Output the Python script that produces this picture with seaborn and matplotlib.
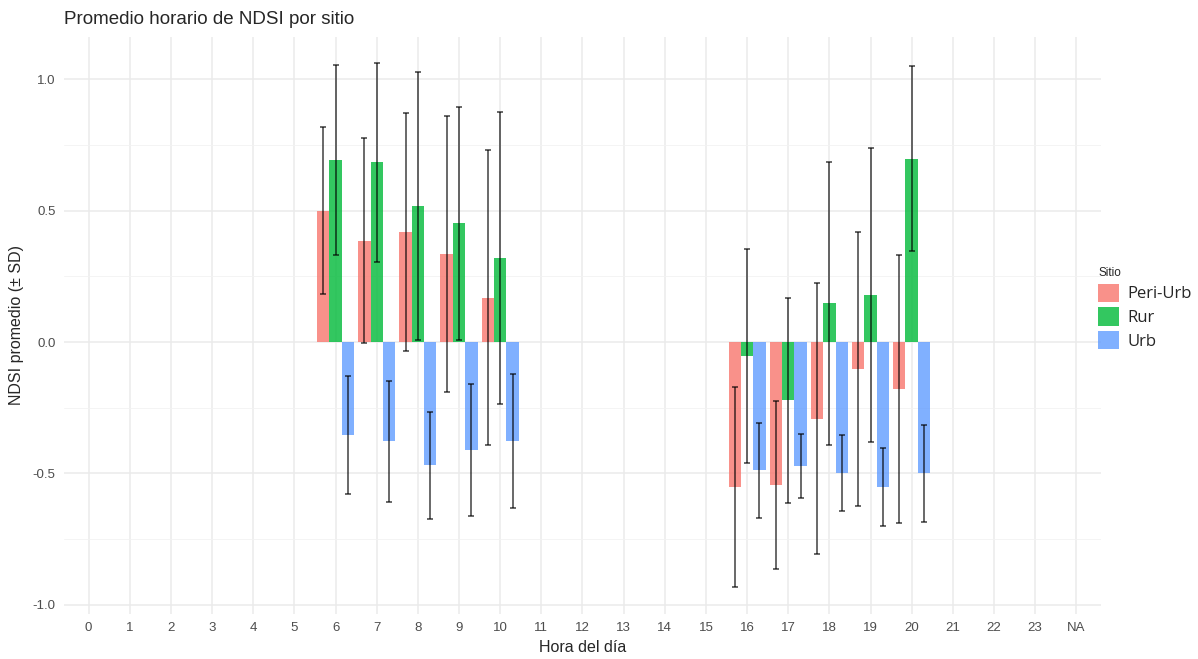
import matplotlib
matplotlib.use("Agg")
import matplotlib.pyplot as plt
import numpy as np
import pandas as pd
import seaborn as sns

# hours on the x axis (all levels of the factor, including NA)
horas = [str(h) for h in range(24)] + ["NA"]
sitios = ["Peri-Urb", "Rur", "Urb"]
colores = ["#F8766D", "#00BA38", "#619CFF"]

# hours that have data
horas_datos = ["6", "7", "8", "9", "10", "16", "17", "18", "19", "20"]

# mean NDSI per hour and site
media_peri = [0.50, 0.385, 0.418, 0.335, 0.169, -0.551, -0.545, -0.292, -0.103, -0.179]
media_rur = [0.693, 0.684, 0.519, 0.452, 0.320, -0.053, -0.221, 0.147, 0.179, 0.697]
media_urb = [-0.354, -0.377, -0.469, -0.411, -0.377, -0.488, -0.472, -0.497, -0.551, -0.500]

# standard deviation
sd_peri = [0.317, 0.39, 0.454, 0.527, 0.56, 0.38, 0.32, 0.515, 0.52, 0.51]
sd_rur = [0.363, 0.378, 0.51, 0.443, 0.556, 0.407, 0.39, 0.537, 0.56, 0.352]
sd_urb = [0.223, 0.23, 0.203, 0.25, 0.256, 0.18, 0.123, 0.145, 0.149, 0.186]

medias = {"Peri-Urb": media_peri, "Rur": media_rur, "Urb": media_urb}
sds = {"Peri-Urb": sd_peri, "Rur": sd_rur, "Urb": sd_urb}

filas = []
for s in sitios:
    for h, m, d in zip(horas_datos, medias[s], sds[s]):
        filas.append({"hora": h, "sitio": s, "ndsi": m, "sd": d})
df = pd.DataFrame(filas)

sns.set_theme(style="white")
plt.rcParams["font.family"] = ["Liberation Sans", "DejaVu Sans"]

fig = plt.figure(figsize=(11.98, 6.59), dpi=100)
ax = fig.add_axes([0.0534, 0.0683, 0.8656, 0.8756])

sns.barplot(data=df, x="hora", y="ndsi", hue="sitio", order=horas,
            hue_order=sitios, palette=colores, saturation=1, alpha=0.8,
            width=0.9, linewidth=0, errorbar=None, ax=ax, zorder=2)

# error bars (mean +- sd) on each bar
for cont, s in zip(ax.containers, sitios):
    sub = df[df.sitio == s].set_index("hora")
    for p in cont.patches:
        cx = p.get_x() + p.get_width() / 2
        h = horas[int(round(cx))]
        if h not in sub.index:
            continue
        ax.errorbar(cx, sub.loc[h, "ndsi"], yerr=sub.loc[h, "sd"],
                    fmt="none", ecolor="black", elinewidth=1.1, capsize=2.5,
                    capthick=1.1, alpha=0.75, zorder=3)

ax.set_xlim(-0.6, len(horas) - 0.4)
ax.set_ylim(-1.035, 1.161)
ax.set_yticks([-1.0, -0.5, 0.0, 0.5, 1.0])
ax.set_yticklabels(["-1.0", "-0.5", "0.0", "0.5", "1.0"])
ax.set_yticks([-0.75, -0.25, 0.25, 0.75], minor=True)

ax.grid(True, which="major", color="#EBEBEB", linewidth=1.1, zorder=0)
ax.grid(True, which="minor", axis="y", color="#F2F2F2", linewidth=0.6, zorder=0)
ax.set_axisbelow(True)
for sp in ax.spines.values():
    sp.set_visible(False)
ax.tick_params(axis="both", which="both", length=0, labelsize=9.5,
               labelcolor="#4D4D4D", pad=6)

ax.set_title("Promedio horario de NDSI por sitio", loc="left", fontsize=13.5,
             pad=9, x=0.0)
ax.set_xlabel("Hora del día", fontsize=11.5, labelpad=4)
ax.set_ylabel("NDSI promedio (± SD)", fontsize=11.5, labelpad=6)

leg = ax.legend(title="Sitio", loc="center left", bbox_to_anchor=(0.983, 0.53),
                frameon=False, title_fontsize=8.5,
                handlelength=1.25, handleheight=1.3, handletextpad=0.5,
                labelspacing=0.3, prop={"family": ["Open Sans", "DejaVu Sans"], "size": 12})
leg._legend_box.align = "left"

fig.savefig("out.png", dpi=100)
